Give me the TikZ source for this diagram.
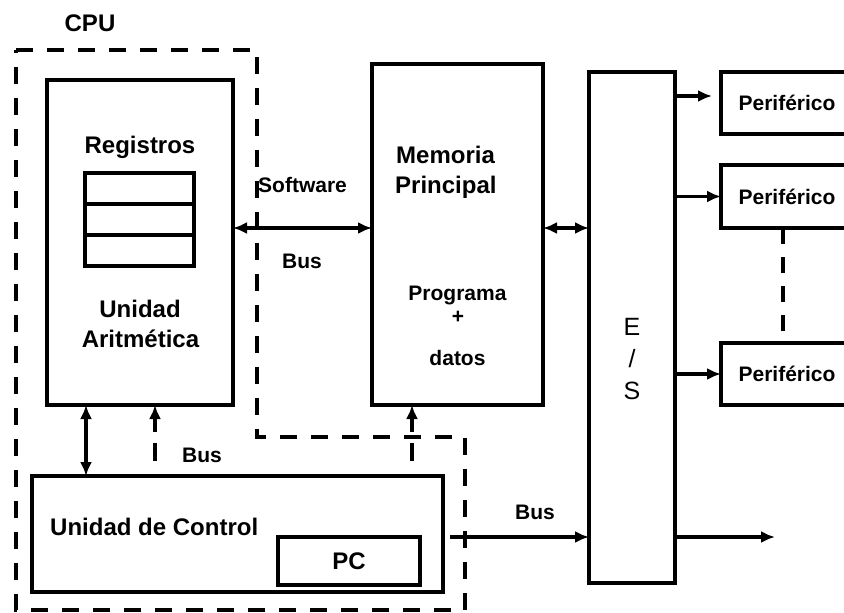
\documentclass[tikz,border=0pt]{standalone}
\usepackage{fontspec}
\setmainfont{Liberation Sans}
\usetikzlibrary{arrows.meta}
\begin{document}
\begin{tikzpicture}[x=1pt,y=-1pt,
  box/.style={draw, line width=3.6pt, inner sep=0pt, outer sep=0pt, rectangle},
  bigt/.style={font=\fontsize{24}{29}\selectfont\bfseries, inner sep=0pt, anchor=base},
  smallt/.style={font=\fontsize{21}{25}\selectfont\bfseries, inner sep=0pt, anchor=base},
  est/.style={font=\fontsize{25}{30}\selectfont, inner sep=0pt, anchor=base},
  periph/.style={box, minimum width=132pt, font=\fontsize{21}{25}\selectfont\bfseries, text height=15.5pt, text depth=0pt},
  conn/.style={line width=3.3pt},
  tip/.style={-{Latex[length=14pt,width=12pt]}},
  dtip/.style={{Latex[length=14pt,width=12pt]}-{Latex[length=14pt,width=12pt]}},
  cpudash/.style={line width=3.9pt, dash pattern=on 17pt off 14pt},
  ctrldash/.style={dash pattern=on 0pt off 15pt on 18pt off 11pt on 200pt},
]
\useasboundingbox (0,0) rectangle (844,613);
\clip (0,0) rectangle (844,613);

% CPU outline
\draw[cpudash] (16,50) -- (257,50) -- (257,437) -- (465,437) -- (465,610) -- (16,610) -- cycle;

% boxes
\node[box, minimum width=186pt, minimum height=325pt] (alu) at (140,242.5) {};
\node[box, minimum width=109pt, minimum height=31pt] (reg1) at (139.5,188.5) {};
\node[box, minimum width=109pt, minimum height=31pt] (reg2) at (139.5,219.5) {};
\node[box, minimum width=109pt, minimum height=31pt] (reg3) at (139.5,250.5) {};
\node[box, minimum width=171pt, minimum height=341pt] (mem) at (457.5,234.5) {};
\node[box, minimum width=86pt, minimum height=511pt] (es) at (632,327.5) {};
\node[periph, minimum height=62pt] (p1) at (787,103) {Periférico};
\node[periph, minimum height=63pt] (p2) at (787,196.5) {Periférico};
\node[periph, minimum height=62pt] (p3) at (787,374) {Periférico};
\node[box, minimum width=411pt, minimum height=116pt] (uc) at (237.5,534) {};
\node[box, minimum width=142pt, minimum height=48pt, font=\fontsize{24}{29}\selectfont\bfseries, text height=17pt, text depth=0pt] (pc) at (349,561) {PC};

% labels
\node[bigt] (cpu) at (90,31) {CPU};
\node[bigt] (regt) at (140,153) {Registros};
\node[bigt] (ua1) at (140,317) {Unidad};
\node[bigt] (ua2) at (140.5,347) {Aritmética};
\node[smallt, anchor=base west] (sw) at (258,192) {Software};
\node[smallt] (bus1) at (302,268) {Bus};
\node[bigt, anchor=base west] (mp1) at (396,163) {Memoria};
\node[bigt, anchor=base west] (mp2) at (395,193) {Principal};
\node[smallt] (pg) at (457.5,300) {Programa};
\node[smallt] (plus) at (458,323) {+};
\node[smallt] (dat) at (457.5,365) {datos};
\node[est] (e1) at (632,335) {E};
\node[est] (e2) at (632,367) {/};
\node[est] (e3) at (632,399) {S};
\node[smallt] (bus2) at (202,462) {Bus};
\node[bigt, anchor=base west] (uct) at (50,535) {Unidad de Control};
\node[smallt] (bus3) at (535,519) {Bus};

% connectors
\coordinate (yA) at (0,228);
\draw[conn,dtip] (alu.east |- yA) -- (mem.west |- yA);
\draw[conn,dtip] (mem.east |- yA) -- (es.west |- yA);
\coordinate (y1) at (0,96);
\draw[conn,tip,shorten >=9pt] (es.east |- y1) -- (p1.west |- y1);
\draw[conn,tip] (es.east |- p2.west) -- (p2.west);
\draw[conn,tip] (es.east |- p3.west) -- (p3.west);
\draw[line width=3.6pt, dash pattern=on 16pt off 13pt] ([xshift=-4pt]p2.south) -- ([xshift=-4pt]p3.north);

\coordinate (xA) at (86,0);
\coordinate (xB) at (155,0);
\coordinate (xC) at (412,0);
\draw[conn,dtip] (alu.south -| xA) -- (uc.north -| xA);
\draw[conn,tip,ctrldash] (uc.north -| xB) -- (alu.south -| xB);
\draw[conn,tip,ctrldash] (uc.north -| xC) -- (mem.south -| xC);
\coordinate (yB) at (0,537);
\draw[conn,tip,shorten <=7pt] (uc.east |- yB) -- (es.west |- yB);
\coordinate (out) at (775,537);
\draw[conn,tip] (es.east |- yB) -- (out);
\end{tikzpicture}
\end{document}
